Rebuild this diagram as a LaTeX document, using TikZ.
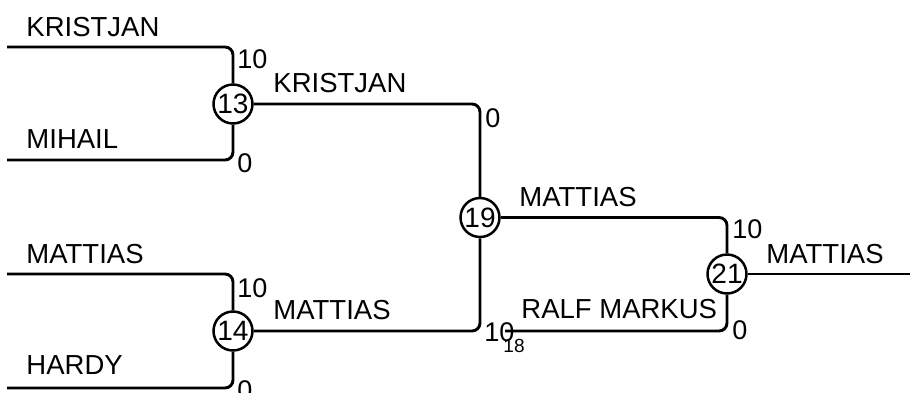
\documentclass[tikz,border=0pt]{standalone}
\usepackage{fontspec}
\setmainfont{Liberation Sans}
\begin{document}
\begin{tikzpicture}[x=1pt,y=-1pt, line width=2.9pt,
  lbl/.style={anchor=base west, inner sep=0pt, font=\fontsize{27.5}{30}\selectfont},
  sc/.style={anchor=north west, inner sep=0pt, font=\fontsize{27}{29}\selectfont},
  tiny/.style={anchor=north west, inner sep=0pt, font=\fontsize{19}{21}\selectfont},
  mt/.style={circle, draw, minimum size=39pt, inner sep=0pt, line width=2.5pt, font=\fontsize{28}{30}\selectfont},
  br/.style={rounded corners=8pt}]
\useasboundingbox (0,0) rectangle (910,392);
% match circles
\node[mt] (c13) at (233,104) {13};
\node[mt] (c14) at (233,331) {14};
\node[mt] (c19) at (480,217.5) {19};
\node[mt] (c21) at (727,274) {21};
% free ends
\coordinate (a1) at (7,47);
\coordinate (a2) at (7,160);
\coordinate (a3) at (7,274);
\coordinate (a4) at (7,388);
\coordinate (r0) at (505,331);
\coordinate (e21) at (910,274);
% connectors
\draw[br] (a1) -| (c13.north);
\draw[br] (a2) -| (c13.south);
\draw[br] (a3) -| (c14.north);
\draw[br] (a4) -| (c14.south);
\draw[br] (c13.east) -| (c19.north);
\draw[br] (c14.east) -| (c19.south);
\draw[br] (c19.east) -| (c21.north);
\draw[br] (r0) -| (c21.south);
\draw (c21.east) -- (e21);
% names
\node[lbl] (n1) at (25,36) {KRISTJAN};
\node[lbl] (n2) at (25,148) {MIHAIL};
\node[lbl] (n3) at (25,263) {MATTIAS};
\node[lbl] (n4) at (25,374) {HARDY};
\node[lbl] (n5) at (272,92) {KRISTJAN};
\node[lbl] (n6) at (272,319) {MATTIAS};
\node[lbl] (n7) at (518,206) {MATTIAS};
\node[lbl] (n8) at (520,318) {RALF MARKUS};
\node[lbl] (n9) at (765,263) {MATTIAS};
% scores
\node[sc] (s1) at (236,48) {10};
\node[sc] (s2) at (236,152) {0};
\node[sc] (s3) at (236,277) {10};
\node[sc] (s4) at (236,379) {0};
\node[sc] (s5) at (484,107) {0};
\node[sc] (s6) at (483,321) {10};
\node[sc] (s7) at (731,218) {10};
\node[sc] (s8) at (731,319) {0};
\node[tiny] (s9) at (502,338) {18};
\end{tikzpicture}
\end{document}
